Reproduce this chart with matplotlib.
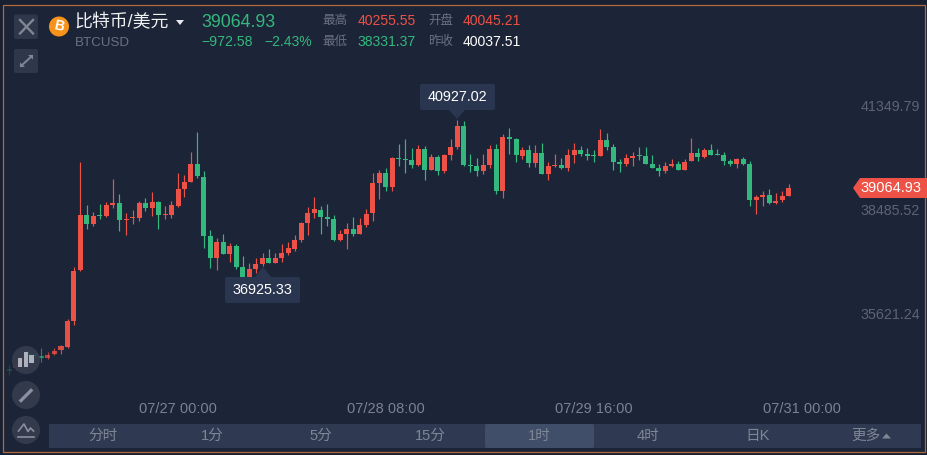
import matplotlib
matplotlib.use('Agg')
import matplotlib.pyplot as plt
from matplotlib.colors import to_rgba
from matplotlib.patches import Rectangle, Circle, Polygon, FancyBboxPatch
import numpy as np

plt.rcParams['font.family'] = ['Liberation Sans', 'Noto Sans CJK SC', 'DejaVu Sans']

# hourly candles
open_p = [34079, 34107, 34217, 34520,
    34483, 34437, 34382, 34492, 34602, 34685, 35401, 36806, 38320, 38072,
    38320, 38293, 38596, 38651, 38183, 38238, 38238, 38651, 38513, 38678,
    38320, 38320, 38568, 39037, 39230, 39725, 39367, 37742, 37136, 37577,
    37246, 37466, 36888, 36613, 36833, 36971, 37136, 36998, 37136, 37274,
    37384, 37632, 38100, 38375, 38458, 38265, 38210, 37632, 37797, 37935,
    37797, 38045, 38375, 39201, 39477, 39091, 39890, 39862, 39835, 39697,
    40138, 39559, 39917, 39532, 39972, 40193, 40771, 39697, 39670, 39532,
    39697, 40138, 38981, 40468, 40413, 39945, 40110, 39752, 40028, 39449,
    39670, 39697, 39614, 39972, 40110, 40000, 39972, 39945, 40386, 40193,
    39780, 39725, 39890, 39973, 39945, 39725, 39615, 39532, 39670, 39725,
    39560, 39807, 40028, 39918, 40110, 40000, 39973, 39807, 39725, 39863,
    39725, 38733, 38816, 38871, 38651, 38733, 38844]
close_p = [34024, 34217, 34355, 34437,
    34437, 34391, 34465, 34575, 34713, 35401, 36778, 38320, 38072, 38293,
    38293, 38596, 38651, 38183, 38210, 38265, 38651, 38513, 38678, 38320,
    38348, 38596, 39037, 39230, 39725, 39395, 37742, 37136, 37577, 37246,
    37466, 36888, 36613, 36833, 36971, 37136, 36998, 37136, 37274, 37411,
    37632, 38100, 38375, 38485, 38265, 38210, 37632, 37797, 37935, 37797,
    38045, 38348, 39201, 39477, 39091, 39890, 39862, 39835, 39697, 40138,
    39559, 39917, 39532, 39972, 40193, 40771, 39697, 39670, 39532, 39697,
    40138, 38981, 40468, 40413, 39972, 40110, 39752, 40028, 39449, 39670,
    39697, 39614, 39972, 40110, 40000, 39945, 39945, 40386, 40193, 39780,
    39725, 39890, 39945, 39945, 39725, 39615, 39532, 39670, 39725, 39560,
    39780, 40028, 39918, 40110, 39973, 39973, 39807, 39725, 39863, 39725,
    38733, 38816, 38871, 38651, 38706, 38844, 39064.93]
high_p = [34189, 34300, 34437, 34602,
    34538, 34648, 34538, 34648, 34740, 35456, 36888, 39780, 38596, 38403,
    38623, 38678, 39312, 38899, 38375, 38458, 38706, 38789, 38954, 38706,
    38568, 38706, 39477, 39422, 40056, 40606, 39532, 37907, 37687, 37797,
    37549, 37521, 37191, 36998, 37136, 37274, 37384, 37274, 37521, 37577,
    37769, 38127, 38540, 38816, 38568, 38623, 38320, 37907, 38100, 38265,
    38237, 38485, 39477, 39559, 39614, 39917, 40275, 40413, 40165, 40248,
    40220, 40000, 39972, 40000, 40413, 40927.02, 40909, 40000, 39890, 40000,
    40248, 40275, 40551, 40716, 40441, 40193, 40248, 40248, 40303, 39780,
    40000, 39890, 40138, 40303, 40220, 40165, 40110, 40689, 40579, 40276,
    39863, 40000, 40055, 40193, 40193, 39973, 39725, 39780, 39863, 39807,
    39863, 40441, 40165, 40165, 40276, 40138, 40055, 39863, 39890, 39918,
    39807, 38871, 38981, 39036, 38926, 38981, 39174]
low_p = [33914, 34052, 34162, 34327,
    34400, 34272, 34355, 34465, 34492, 34658, 35291, 36778, 37935, 38017,
    38210, 38265, 38513, 37880, 37770, 38072, 38155, 38431, 38293, 37935,
    38210, 38238, 38541, 38816, 39230, 39340, 37411, 36860, 36805, 37246,
    37026, 36833, 36613, 36613, 36723, 36925.33, 36998, 36998, 37026, 37218,
    37329, 37577, 37769, 38237, 37797, 38017, 37604, 37604, 37384, 37742,
    37797, 37990, 38155, 38761, 38981, 38981, 39670, 39477, 39614, 39670,
    39284, 39559, 39422, 39477, 39835, 40138, 39670, 39504, 39394, 39449,
    39614, 38898, 38788, 40000, 39780, 39862, 39642, 39642, 39449, 39284,
    39642, 39587, 39532, 39752, 39945, 39835, 39780, 39945, 40110, 39560,
    39505, 39670, 39670, 39835, 39725, 39615, 39394, 39477, 39642, 39560,
    39560, 39807, 39807, 39890, 39973, 39973, 39697, 39670, 39615, 39697,
    38568, 38348, 38568, 38623, 38623, 38678, 38844]

time_labels = ['07/27 00:00', '07/28 08:00', '07/29 16:00', '07/31 00:00']
time_idx = [26, 58, 90, 122]
price_ticks = [41349.79, 38485.52, 35621.24]
price_tick_labels = ['41349.79', '38485.52', '35621.24']
last_price = '39064.93'
tip_high = '40927.02'
tip_low = '36925.33'
period_labels = ['分时', '1分', '5分', '15分', '1时', '4时', '日K', '更多']

RED = '#ee5145'
GREEN = '#33b87e'
BG = '#1c2437'
GRAY = '#6a7183'
TIP = '#2a3550'

fig = plt.figure(figsize=(9.28, 4.55), dpi=100, facecolor='#182032')

# candle axes covers the whole figure, pixel = 9 + 6.5 * index
ax = fig.add_axes([0, 0, 1, 1])
ax.set_facecolor('none')
ax.set_xlim(-9 / 6.5, (928 - 9) / 6.5)
ax.set_ylim(44241.4 - 27.54 * 455, 44241.4)
ax.axis('off')

# ui layer in pixel coordinates
ui = fig.add_axes([0, 0, 1, 1], zorder=-1)
ui.set_xlim(0, 928)
ui.set_ylim(455, 0)
ui.axis('off')
top = fig.add_axes([0, 0, 1, 1], zorder=5)
top.set_xlim(0, 928)
top.set_ylim(455, 0)
top.axis('off')
top.patch.set_alpha(0)

ui.add_patch(Rectangle((3.5, 4.5), 922, 447, fc=BG, ec='#b06a3a', lw=0.9))

# candles, the chart fades out towards the left edge
idx = np.arange(len(open_p))
o = np.array(open_p)
c = np.array(close_p)
fade = np.interp(9 + 6.5 * idx, [0, 70], [0.1, 1])
colors = [to_rgba(RED if c[i] >= o[i] else GREEN, fade[i]) for i in idx]
ax.vlines(idx, low_p, high_p, colors=colors, lw=0.85, zorder=2)
ax.bar(idx, np.abs(c - o), bottom=np.minimum(o, c), width=5 / 6.5, color=colors, lw=0, zorder=3)

# time axis
for i, lab in zip(time_idx, time_labels):
    ax.text(i, 44241.4 - 27.54 * 409, lab, color='#7b8292', fontsize=10.5, ha='center', va='center')

# price axis
for p, lab in zip(price_ticks, price_tick_labels):
    ax.annotate(lab, (890 / 6.5 - 9 / 6.5, p), xytext=(0, -1.4), textcoords='offset points',
                color='#5c6374', fontsize=10.3, ha='center', va='center')

# last price tag
top.add_patch(Polygon([(853, 188), (860, 178), (927, 178), (927, 198), (860, 198)], fc=RED, ec='none'))
top.text(891, 188.3, last_price, color='white', fontsize=10.5, ha='center', va='center')


def tooltip(x0, x1, y0, y1, tx, ty, label):
    top.add_patch(FancyBboxPatch((x0 + 2, y0 + 2), x1 - x0 - 4, y1 - y0 - 4, boxstyle='round,pad=2',
                                 fc=TIP, ec='none'))
    base = y0 if ty < y0 else y1
    top.add_patch(Polygon([(tx - 8, base), (tx, ty), (tx + 8, base)], fc=TIP, ec='none'))
    top.text((x0 + x1) / 2, (y0 + y1) / 2, label, color='white', fontsize=10.4, ha='center', va='center')


tooltip(420, 495, 84, 110, 457, 119, tip_high)
tooltip(225, 300, 277, 303, 263, 267, tip_low)

# header
for y0, y1 in [(14.5, 39), (49, 73)]:
    top.add_patch(FancyBboxPatch((16, y0 + 2), 20, y1 - y0 - 4, boxstyle='round,pad=2', fc='#2f384b', ec='none'))
top.plot([20, 33], [20, 33.5], color='#808794', lw=1.7)
top.plot([20, 33], [33.5, 20], color='#808794', lw=1.7)
top.plot([21, 32], [66, 56], color='#808794', lw=1.4)
top.add_patch(Polygon([(20, 67), (20, 62.5), (25, 67)], fc='#808794', ec='none'))
top.add_patch(Polygon([(33, 55), (33, 59.5), (28, 55)], fc='#808794', ec='none'))

top.add_patch(Circle((59, 26.5), 10, fc='#f7931a', ec='none'))
top.text(59, 26.5, 'B', color='white', fontsize=10, fontweight='bold', rotation=-12, ha='center', va='center')

top.text(74.5, 23, '比特币/美元', color='#f0f1f3', fontsize=12.9, ha='left', va='center')
top.add_patch(Polygon([(176, 20), (184, 20), (180, 25)], fc='#e8e9ec', ec='none'))
top.text(75, 42.5, 'BTCUSD', color=GRAY, fontsize=9.6, ha='left', va='center')
top.text(201, 22.5, '39064.93', color=GREEN, fontsize=12.8, ha='left', va='center')
top.text(201, 42, '−972.58', color=GREEN, fontsize=10.2, ha='left', va='center')
top.text(264, 42, '−2.43%', color=GREEN, fontsize=10, ha='left', va='center')
top.text(322, 21, '最高', color=GRAY, fontsize=9, ha='left', va='center')
top.text(322, 42, '最低', color=GRAY, fontsize=9, ha='left', va='center')
top.text(428, 21, '开盘', color=GRAY, fontsize=9, ha='left', va='center')
top.text(428, 42, '昨收', color=GRAY, fontsize=9, ha='left', va='center')
top.text(358, 21, '40255.55', color=RED, fontsize=10.1, ha='left', va='center')
top.text(358, 42, '38331.37', color=GREEN, fontsize=10.1, ha='left', va='center')
top.text(463, 21, '40045.21', color=RED, fontsize=10.1, ha='left', va='center')
top.text(463, 42, '40037.51', color='white', fontsize=10.1, ha='left', va='center')

# side buttons
for cy in [360, 395, 430]:
    top.add_patch(Circle((26, cy), 14, fc='#363e50', ec='none', alpha=0.88))
for x, y0, y1 in [(20, 358, 367), (26, 352, 367), (31.7, 355, 363)]:
    top.add_patch(Rectangle((x - 2.4, y0), 4.8, y1 - y0, fc='#c4c7cf', ec='none', alpha=0.85))
top.plot([21, 31], [400.5, 390.5], color='#8a909d', lw=2.4)
top.plot([18.5, 24, 28, 30.5, 33.5], [431, 424, 431.5, 428, 431], color='#8a909d', lw=1.2)
top.plot([18.5, 34], [437, 437], color='#8a909d', lw=1.2)

# period bar
top.add_patch(Rectangle((49, 424), 872, 24, fc='#2f3a52', ec='none'))
top.add_patch(FancyBboxPatch((487, 426), 105, 20, boxstyle='round,pad=2', fc='#414e69', ec='none'))
period_x = [103, 212, 321, 430, 539, 648, 758, 866]
for x, lab in zip(period_x, period_labels):
    top.text(x, 436, lab, color='#7e8696', fontsize=10.5, ha='center', va='center')
top.add_patch(Polygon([(882, 438.5), (891, 438.5), (886.5, 433.5)], fc='#7e8696', ec='none'))

fig.savefig('out.png', dpi=100, facecolor=fig.get_facecolor())
